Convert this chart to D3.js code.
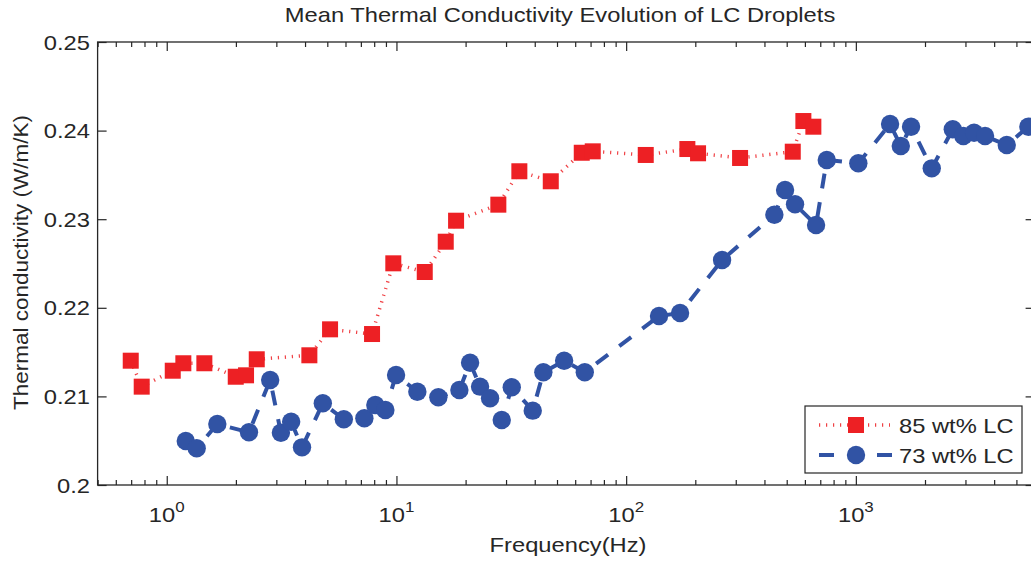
<!DOCTYPE html>
<html><head><meta charset="utf-8">
<script src="https://cdn.jsdelivr.net/npm/d3@7"></script>
<style>
body{margin:0;background:#fff}
svg{display:block}
text{font-family:"Liberation Sans",Arial,Helvetica,sans-serif;fill:#262626}
</style>
</head><body>
<svg id="chart" width="1031" height="561"></svg>
<script>
// ---- data ----
const seriesNames = ["85 wt% LC", "73 wt% LC"];
const freq85 = [0.697,0.778,1.062,1.181,1.458,1.997,2.214,2.465,4.177,5.14,7.83,9.69,13.28,16.39,18.18,27.77,34.28,46.97,64.08,71.54,121.7,184.7,205.6,313.3,531.3,590.9,653.1];
const k85 = [0.21403,0.2111,0.2129,0.21374,0.21374,0.21222,0.21238,0.21419,0.21464,0.21757,0.21704,0.22502,0.22404,0.22746,0.22983,0.23164,0.23541,0.23428,0.2375,0.23766,0.23725,0.23792,0.23744,0.23691,0.23762,0.24108,0.24044];
const freq73 = [1.21,1.35,1.66,2.28,2.82,3.14,3.48,3.88,4.78,5.9,7.25,8.09,8.95,9.96,12.33,15.22,18.79,20.92,23.12,25.56,28.73,31.77,39.2,43.6,53.7,66.05,139,171.7,261.6,441.8,491.8,543.6,671,747,1025,1409,1569,1739,2140,2642,2938,3270,3651,4538,5636];
const k73 = [0.20497,0.20414,0.20688,0.20595,0.21185,0.2059,0.20714,0.20425,0.20922,0.20742,0.20753,0.20903,0.20846,0.21242,0.21053,0.2099,0.21072,0.2138,0.2111,0.20979,0.20734,0.21103,0.20839,0.21272,0.21403,0.21272,0.21907,0.21941,0.2254,0.23051,0.2333,0.23168,0.22935,0.23668,0.23631,0.24074,0.23826,0.24044,0.23574,0.24015,0.23939,0.23976,0.23939,0.23837,0.24044];
const yTicks = [0.2, 0.21, 0.22, 0.23, 0.24, 0.25];
const yTickLabels = ["0.2", "0.21", "0.22", "0.23", "0.24", "0.25"];
const xMajor = [1, 10, 100, 1000];
const xTickExp = ["0", "1", "2", "3"];
const xDomain = [0.5, 6000];
const yDomain = [0.2, 0.25];
const titleText = "Mean Thermal Conductivity Evolution of LC Droplets";
const xLabelText = "Frequency(Hz)";
const yLabelText = "Thermal conductivity (W/m/K)";

// ---- layout ----
const L = 97.6, R = 1034.6, T = 42, B = 485;
const SX = 1.13;       // horizontal stretch of text in the reference
const FS = 21;
const RED = "#ED2024", BLUE = "#3153A4", AX = "#262626";

const svg = d3.select("#chart");
const x = d3.scaleLog().domain(xDomain).range([L, R]);
const y = d3.scaleLinear().domain(yDomain).range([B, T]);

// minor ticks
const xMinor = [];
for (let e = -1; e <= 3; e++) for (let m = 2; m <= 9; m++) {
  const v = m * Math.pow(10, e);
  if (v >= xDomain[0] && v <= xDomain[1]) xMinor.push(v);
}
xMinor.push(5)  // ensure
const xMinorU = Array.from(new Set(xMinor)).filter(v => !xMajor.includes(v));

function styleAxis(g) {
  g.select(".domain").remove();
  g.selectAll(".tick line").attr("stroke", AX).attr("stroke-width", 1.2);
}

// bottom major
const gxb = svg.append("g").attr("transform", `translate(0,${B})`)
  .call(d3.axisBottom(x).tickValues(xMajor).tickSize(-9).tickFormat(""));
styleAxis(gxb);
// bottom minor
const gxbm = svg.append("g").attr("transform", `translate(0,${B})`)
  .call(d3.axisBottom(x).tickValues(xMinorU).tickSize(-5).tickFormat(""));
styleAxis(gxbm);
// top major/minor
const gxt = svg.append("g").attr("transform", `translate(0,${T})`)
  .call(d3.axisTop(x).tickValues(xMajor).tickSize(-9).tickFormat(""));
styleAxis(gxt);
const gxtm = svg.append("g").attr("transform", `translate(0,${T})`)
  .call(d3.axisTop(x).tickValues(xMinorU).tickSize(-5).tickFormat(""));
styleAxis(gxtm);
// left / right
const gyl = svg.append("g").attr("transform", `translate(${L},0)`)
  .call(d3.axisLeft(y).tickValues(yTicks).tickSize(-9).tickFormat(""));
styleAxis(gyl);
const gyr = svg.append("g").attr("transform", `translate(${R},0)`)
  .call(d3.axisRight(y).tickValues(yTicks).tickSize(-9).tickFormat(""));
styleAxis(gyr);

// box
svg.append("rect").attr("x", L).attr("y", T).attr("width", R - L).attr("height", B - T)
  .attr("fill", "none").attr("stroke", AX).attr("stroke-width", 1.3);

function sText(px, py, anchor, size) {
  return svg.append("text")
    .attr("transform", `translate(${px},${py}) scale(${SX},1)`)
    .attr("text-anchor", anchor).attr("font-size", size || FS);
}

// y tick labels
yTicks.forEach((v, i) => {
  sText(90, y(v) + 7.5, "end").text(yTickLabels[i]);
});
// x tick labels 10^n
xMajor.forEach((v, i) => {
  const t = sText(x(v), 521.5, "middle");
  t.append("tspan").text("10");
  t.append("tspan").attr("font-size", 15).attr("dy", -10).text(xTickExp[i]);
});

// title & labels
sText(560, 21.7, "middle").text(titleText);
sText(568, 552, "middle").text(xLabelText);
svg.append("text").attr("transform", `translate(27.5,262.5) rotate(-90)`)
  .attr("text-anchor", "middle").attr("font-size", FS)
  .attr("textLength", 295).attr("lengthAdjust", "spacingAndGlyphs")
  .text(yLabelText);

// series
const d85 = freq85.map((f, i) => [f, k85[i]]);
const d73 = freq73.map((f, i) => [f, k73[i]]);
const line = d3.line().x(d => x(d[0])).y(d => y(d[1]));

const plot = svg.append("g");
plot.append("path").datum(d85).attr("d", line).attr("fill", "none")
  .attr("stroke", RED).attr("stroke-width", 3.5).attr("stroke-dasharray", "1.2,5.8").attr("opacity", 0.85);
plot.selectAll("rect.m85").data(d85).join("rect").attr("class", "m85")
  .attr("x", d => x(d[0]) - 8).attr("y", d => y(d[1]) - 8).attr("width", 16).attr("height", 16)
  .attr("fill", RED);

plot.append("path").datum(d73).attr("d", line).attr("fill", "none")
  .attr("stroke", BLUE).attr("stroke-width", 4).attr("stroke-dasharray", "15,14");
plot.selectAll("circle.m73").data(d73).join("circle").attr("class", "m73")
  .attr("cx", d => x(d[0])).attr("cy", d => y(d[1])).attr("r", 9.2)
  .attr("fill", BLUE);

// legend
const lg = svg.append("g");
lg.append("rect").attr("x", 805).attr("y", 406).attr("width", 217).attr("height", 67)
  .attr("fill", "#fff").attr("stroke", AX).attr("stroke-width", 1.2);
lg.append("line").attr("x1", 819).attr("x2", 890).attr("y1", 425).attr("y2", 425)
  .attr("stroke", RED).attr("stroke-width", 3.5).attr("stroke-dasharray", "1.2,5.8").attr("opacity", 0.85);
lg.append("rect").attr("x", 848).attr("y", 417).attr("width", 16).attr("height", 16).attr("fill", RED);
lg.append("line").attr("x1", 819).attr("x2", 892).attr("y1", 455).attr("y2", 455)
  .attr("stroke", BLUE).attr("stroke-width", 4).attr("stroke-dasharray", "15,14");
lg.append("circle").attr("cx", 856).attr("cy", 455).attr("r", 9.2).attr("fill", BLUE);
sText(899, 433, "start").text(seriesNames[0]);
sText(899, 463, "start").text(seriesNames[1]);
</script>
</body></html>
